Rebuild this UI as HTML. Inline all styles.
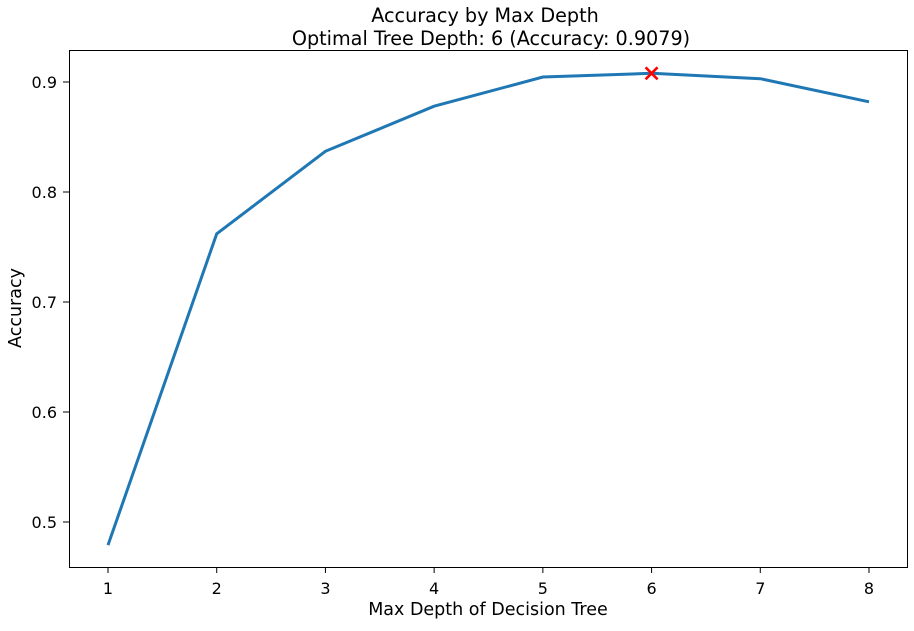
<!DOCTYPE html>
<html><head><meta charset="utf-8"><style>
body{margin:0;background:#fff;}
svg text{font-family:"DejaVu Sans","Liberation Sans",sans-serif;fill:#000;}
</style></head><body>
<svg id="chart" width="914" height="626" xmlns="http://www.w3.org/2000/svg">
<text x="485" y="22" font-size="19.2" text-anchor="middle">Accuracy by Max Depth</text>
<text x="491" y="45" font-size="19.2" text-anchor="middle">Optimal Tree Depth: 6 (Accuracy: 0.9079)</text>
<g id="xt"></g>
<g id="yt"></g>
<rect x="69.5" y="50.5" width="838" height="517" fill="none" stroke="#000" stroke-width="1"/>
<path id="line" fill="none" stroke="#1f77b4" stroke-width="3"/>
<g id="best"></g>
<text x="488" y="615" font-size="17.5" text-anchor="middle">Max Depth of Decision Tree</text>
<text transform="translate(21,308) rotate(-90)" font-size="17.5" text-anchor="middle">Accuracy</text>
</svg>
<script>
const depths=[1,2,3,4,5,6,7,8];
const accuracy=[0.479,0.762,0.837,0.878,0.9045,0.9079,0.903,0.882];
const xTicks=[1,2,3,4,5,6,7,8];
const yTicks=[0.5,0.6,0.7,0.8,0.9];
const bestDepth=6, bestAcc=0.9079;
const X=v=>108+(v-1)*(869-108)/7;
const Y=v=>522-(v-0.5)*1100;
const NS="http://www.w3.org/2000/svg";
const xt=document.getElementById('xt'),yt=document.getElementById('yt');
xTicks.forEach(t=>{
 const l=document.createElementNS(NS,'line');
 l.setAttribute('x1',X(t));l.setAttribute('x2',X(t));l.setAttribute('y1',567);l.setAttribute('y2',573);l.setAttribute('stroke','#000');
 
 
 xt.appendChild(l);
 const s=document.createElementNS(NS,'text');
 s.setAttribute('x',X(t));s.setAttribute('y',594);s.setAttribute('font-size','16');s.setAttribute('text-anchor','middle');s.textContent=t;
 
 
 xt.appendChild(s);
});
yTicks.forEach(t=>{
 const l=document.createElementNS(NS,'line');
 l.setAttribute('x1',63);l.setAttribute('x2',69);l.setAttribute('y1',Y(t));l.setAttribute('y2',Y(t));l.setAttribute('stroke','#000');
 
 
 yt.appendChild(l);
 const s=document.createElementNS(NS,'text');
 s.setAttribute('x',57);s.setAttribute('y',Y(t)+6);s.setAttribute('font-size','16');s.setAttribute('text-anchor','end');s.textContent=t.toFixed(1);
 
 
 yt.appendChild(s);
});
document.getElementById('line').setAttribute('d',depths.map((d,i)=>(i?'L':'M')+X(d)+','+Y(accuracy[i])).join(''));
const bx=X(bestDepth),by=Y(bestAcc),b=document.getElementById('best');
[[-6,-6,6,6],[-6,6,6,-6]].forEach(c=>{
 const l=document.createElementNS(NS,'line');
 l.setAttribute('x1',bx+c[0]);l.setAttribute('y1',by+c[1]);l.setAttribute('x2',bx+c[2]);l.setAttribute('y2',by+c[3]);
 l.setAttribute('stroke','red');l.setAttribute('stroke-width','2.5');
 
 
 b.appendChild(l);
});
</script>
</body></html>
